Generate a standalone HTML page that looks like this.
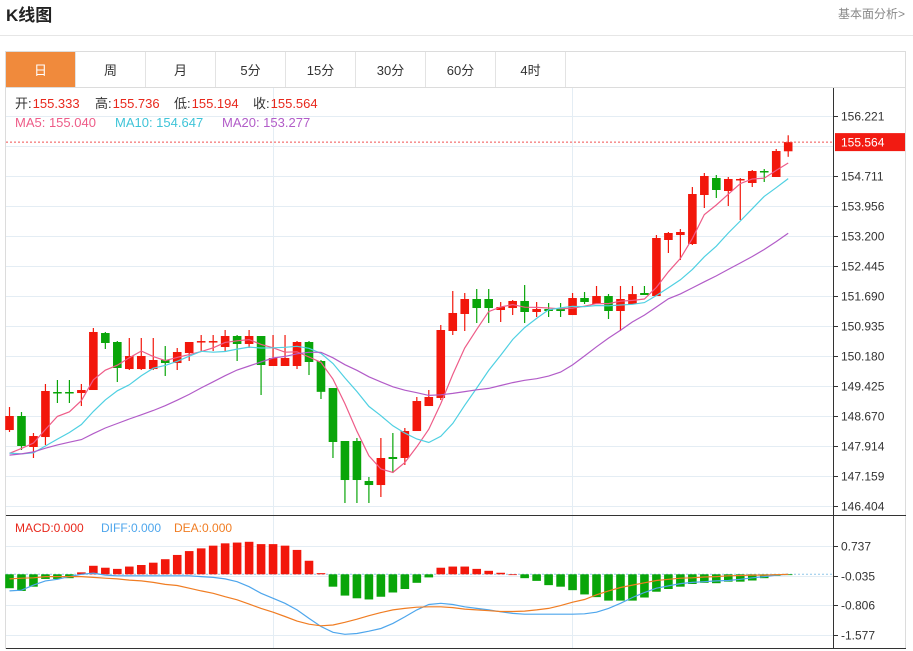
<!DOCTYPE html>
<html><head><meta charset="utf-8"><style>
body{margin:0;background:#fff;font-family:"Liberation Sans","Noto Sans CJK SC",sans-serif;}
#wrap{position:relative;width:913px;height:651px;overflow:hidden;}
svg text{font-family:"Liberation Sans","Noto Sans CJK SC",sans-serif;}
</style></head><body>
<div id="wrap">
<svg id="svg" width="913" height="651" xmlns="http://www.w3.org/2000/svg">
<text x="6" y="21" font-size="17" font-weight="bold" fill="#222">K线图</text>
<text x="905" y="18" font-size="12" fill="#888" text-anchor="end">基本面分析&gt;</text>
<line x1="0" y1="35.5" x2="913" y2="35.5" stroke="#e6e6e6"/>
<rect x="5.5" y="51.5" width="900" height="597" fill="none" stroke="#dcdcdc"/>
<g id="tabs"></g>
<g id="grid"></g>
<g id="main"></g>
<g id="macd"></g>
<g id="axes"></g>
</svg>
</div>
<script>
const opens=[148.319,148.672,147.892,148.143,149.276,149.276,149.250,149.326,150.760,150.534,149.854,149.854,149.854,150.081,150.005,150.257,150.534,150.534,150.408,150.685,150.484,150.685,149.930,149.930,149.930,150.534,150.056,149.376,148.043,148.043,147.036,146.935,147.640,147.615,148.294,148.923,149.125,150.811,151.239,151.616,151.616,151.339,151.389,151.566,151.289,151.364,151.364,151.213,151.641,151.490,151.691,151.314,151.490,151.767,151.691,153.101,153.226,153.000,154.233,154.661,154.334,154.610,154.535,154.837,154.686,155.333];
const closes=[148.672,147.917,148.168,149.301,149.250,149.250,149.326,150.786,150.509,149.880,150.182,150.182,150.081,150.005,150.282,150.534,150.558,150.558,150.685,150.484,150.685,149.955,150.131,150.131,150.534,150.031,149.280,148.018,147.061,147.061,146.935,147.615,147.590,148.294,149.049,149.150,150.836,151.264,151.616,151.389,151.389,151.415,151.566,151.289,151.364,151.314,151.314,151.641,151.541,151.691,151.314,151.616,151.740,151.717,153.151,153.277,153.302,154.258,154.711,154.359,154.636,154.636,154.837,154.812,155.340,155.564];
const highs=[148.898,148.772,148.244,149.477,149.578,149.578,149.477,150.886,150.786,150.559,150.635,150.635,150.635,150.433,150.383,150.534,150.710,150.710,150.836,150.710,150.836,150.685,150.710,150.710,150.559,150.559,150.081,149.376,148.043,148.118,147.137,148.118,148.244,148.370,149.150,149.326,150.962,151.817,151.767,151.868,151.868,151.540,151.591,151.968,151.540,151.515,151.515,151.767,151.792,151.943,151.742,151.943,151.943,151.943,153.226,153.302,153.377,154.434,154.787,154.736,154.686,154.661,154.862,154.887,155.391,155.736];
const lows=[148.269,147.816,147.615,147.942,148.999,148.999,148.923,150.786,150.358,149.527,149.829,149.829,149.829,149.678,149.829,150.056,150.307,150.307,150.307,150.056,150.383,149.200,149.930,149.930,149.854,149.703,149.100,147.615,146.483,146.483,146.483,146.634,147.237,147.439,148.923,148.923,149.074,150.710,150.811,151.012,151.012,151.037,151.213,151.012,151.163,151.163,151.163,151.213,151.490,151.490,151.113,150.811,151.490,151.717,151.717,152.774,152.597,152.975,153.906,154.158,153.956,153.604,154.434,154.560,154.686,155.194];
const historyCloses=[147.3,147.2,147.4,147.6,147.9,148.0,147.8,147.7,147.6,147.9,148.1,147.9,147.6,147.5,147.6,147.3,147.5,147.6,147.6];
const priceTicks=[156.221,154.711,153.956,153.200,152.445,151.690,150.935,150.180,149.425,148.670,147.914,147.159,146.404];
const macdHist=[-0.36,-0.43,-0.32,-0.12,-0.12,-0.10,0.05,0.22,0.17,0.14,0.20,0.24,0.30,0.39,0.50,0.60,0.67,0.74,0.80,0.82,0.84,0.78,0.78,0.74,0.63,0.35,0.03,-0.32,-0.55,-0.62,-0.65,-0.58,-0.47,-0.38,-0.22,-0.08,0.17,0.20,0.20,0.14,0.09,0.04,0.00,-0.10,-0.17,-0.28,-0.32,-0.41,-0.52,-0.59,-0.68,-0.68,-0.68,-0.60,-0.45,-0.38,-0.32,-0.25,-0.22,-0.23,-0.19,-0.19,-0.16,-0.10,-0.04,-0.02];
const diffVals=[-0.43,-0.41,-0.28,-0.17,-0.13,-0.06,0.00,0.03,-0.02,-0.04,-0.04,-0.04,-0.04,-0.04,-0.04,-0.04,-0.06,-0.08,-0.12,-0.19,-0.32,-0.49,-0.62,-0.75,-0.92,-1.14,-1.35,-1.50,-1.55,-1.53,-1.47,-1.40,-1.27,-1.10,-0.92,-0.78,-0.75,-0.78,-0.84,-0.88,-0.92,-0.97,-1.01,-1.03,-1.03,-1.03,-1.03,-1.03,-1.02,-0.98,-0.88,-0.75,-0.60,-0.47,-0.36,-0.30,-0.24,-0.21,-0.19,-0.17,-0.16,-0.13,-0.09,-0.06,-0.02,0.00];
const deaVals=[-0.12,-0.10,-0.09,-0.06,-0.06,-0.06,-0.06,-0.08,-0.10,-0.12,-0.15,-0.17,-0.21,-0.26,-0.29,-0.36,-0.43,-0.49,-0.58,-0.66,-0.77,-0.88,-0.98,-1.09,-1.21,-1.29,-1.33,-1.31,-1.24,-1.16,-1.07,-0.99,-0.92,-0.88,-0.85,-0.84,-0.84,-0.86,-0.90,-0.92,-0.94,-0.96,-0.96,-0.95,-0.92,-0.88,-0.81,-0.72,-0.65,-0.53,-0.43,-0.34,-0.28,-0.22,-0.16,-0.13,-0.10,-0.09,-0.07,-0.06,-0.04,-0.03,-0.02,-0.02,-0.01,0.00];
const macdTicks=[0.737,-0.035,-0.806,-1.577];
const tabLabels=["日","周","月","5分","15分","30分","60分","4时"];

const NS="http://www.w3.org/2000/svg";
function mk(parent,tag,attrs,text){const e=document.createElementNS(NS,tag);for(const k in attrs)e.setAttribute(k,attrs[k]);if(text!==undefined)e.textContent=text;parent.appendChild(e);return e;}
const yP=p=>116+(156.221-p)*39.74;
const yM=v=>574.3-v*38.7;
const xI=i=>9.5+i*11.98;
const G=id=>document.getElementById(id);

// tabs
const tabs=G('tabs');
mk(tabs,'line',{x1:5,y1:87.5,x2:906,y2:87.5,stroke:'#dcdcdc'});
tabLabels.forEach((t,i)=>{
  const x=6+i*70;
  const r=mk(tabs,'rect',{x:x,y:52,width:69,height:35,fill:i===0?'#f08a3c':'#fff'});
  
  
  mk(tabs,'line',{x1:x+69.5,y1:52,x2:x+69.5,y2:87,stroke:'#e3e3e3'});
  const tx=mk(tabs,'text',{x:x+34.5,y:75,'font-size':13,'text-anchor':'middle',fill:i===0?'#fff':'#333'},t);
  
  
});

// grid
const grid=G('grid');
priceTicks.forEach(p=>mk(grid,'line',{x1:6,y1:Math.round(yP(p))+0.5,x2:833,y2:Math.round(yP(p))+0.5,stroke:'#e4edf4'}));
mk(grid,'line',{x1:6,y1:146.5,x2:833,y2:146.5,stroke:'#e4edf4'});
macdTicks.forEach(v=>mk(grid,'line',{x1:6,y1:Math.round(yM(v))+0.5,x2:833,y2:Math.round(yM(v))+0.5,stroke:'#e4edf4'}));
[273.5,572.5].forEach(x=>{mk(grid,'line',{x1:x,y1:88,x2:x,y2:515,stroke:'#e4edf4'});mk(grid,'line',{x1:x,y1:516,x2:x,y2:648,stroke:'#e4edf4'});});

// candles
const main=G('main');
const RED='#f2170b',GRN='#09a509';
opens.forEach((o,i)=>{
  const c=closes[i],x=xI(i),col=c>=o?RED:GRN;
  const w=mk(main,'line',{x1:x,y1:yP(highs[i]),x2:x,y2:yP(lows[i]),stroke:col,'stroke-width':1.2});
  
  
  const top=yP(Math.max(o,c)),h=Math.max(1.5,Math.abs(yP(o)-yP(c)));
  const b=mk(main,'rect',{x:x-4.3,y:top,width:8.6,height:h,fill:col});
  
  
});
// moving averages
const all=historyCloses.concat(closes);
function ma(n){return closes.map((_,i)=>{const j=i+historyCloses.length;let s=0;for(let k=j-n+1;k<=j;k++)s+=all[k];return s/n;});}
[[5,'#ee5c88','ma5-line'],[10,'#4fd0e2','ma10-line'],[20,'#b25cc8','ma20-line']].forEach(([n,col,name])=>{
  const pts=ma(n).map((v,i)=>xI(i).toFixed(1)+','+yP(v).toFixed(1)).join(' ');
  const l=mk(main,'polyline',{points:pts,fill:'none',stroke:col,'stroke-width':1.2});
  
  
});
const lastC=closes[closes.length-1];
const pl=mk(main,'line',{x1:6,y1:yP(lastC),x2:833,y2:yP(lastC),stroke:'#f05050','stroke-dasharray':'2,2'});



// info text
const info=[['开:','155.333',15],['高:','155.736',95],['低:','155.194',174],['收:','155.564',253]];
info.forEach(([k,v,x])=>{
  const t=mk(main,'text',{x:x,y:108,'font-size':13,fill:'#333'});
  
  
  mk(t,'tspan',{},k);mk(t,'tspan',{fill:'#e8281c',dx:1},v);
});
[['MA5: 155.040','#ee5c88',15],['MA10: 154.647','#3fc4d8',115],['MA20: 153.277','#b25cc8',222]].forEach(([s,c,x])=>{
  const t=mk(main,'text',{x:x,y:127,'font-size':13,fill:c},s);
  
  
});

// macd
const mg=G('macd');
mk(mg,'line',{x1:6,y1:yM(0),x2:833,y2:yM(0),stroke:'#8fc7ea','stroke-dasharray':'2,2'});
macdHist.forEach((v,i)=>{
  const y0=yM(0),y1=yM(v);
  const r=mk(mg,'rect',{x:xI(i)-4.3,y:Math.min(y0,y1),width:8.6,height:Math.max(0.8,Math.abs(y1-y0)),fill:v>=0?RED:GRN});
  
  
});
[[diffVals,'#4ea6ec','diff-line'],[deaVals,'#f07d23','dea-line']].forEach(([arr,col,name])=>{
  const l=mk(mg,'polyline',{points:arr.map((v,i)=>xI(i).toFixed(1)+','+yM(v).toFixed(1)).join(' '),fill:'none',stroke:col,'stroke-width':1.2});
  
  
});
[['MACD:0.000','#e8281c',15],['DIFF:0.000','#4ea6ec',101],['DEA:0.000','#f07d23',174]].forEach(([s,c,x])=>{
  const t=mk(mg,'text',{x:x,y:532,'font-size':12,fill:c},s);
  
  
});

// axes
const ax=G('axes');
mk(ax,'line',{x1:833.5,y1:88,x2:833.5,y2:648,stroke:'#333'});
mk(ax,'line',{x1:6,y1:515.5,x2:906,y2:515.5,stroke:'#333'});
mk(ax,'line',{x1:6,y1:648.5,x2:906,y2:648.5,stroke:'#333'});
priceTicks.forEach(p=>{
  const y=Math.round(yP(p))+0.5;
  mk(ax,'line',{x1:833,y1:y,x2:838,y2:y,stroke:'#333'});
  const t=mk(ax,'text',{x:841,y:y+4,'font-size':12,fill:'#333'},p.toFixed(3));
  
  
});
macdTicks.forEach(v=>{
  const y=Math.round(yM(v))+0.5;
  mk(ax,'line',{x1:833,y1:y,x2:838,y2:y,stroke:'#333'});
  const t=mk(ax,'text',{x:841,y:y+4,'font-size':12,fill:'#333'},v.toFixed(3));
  
  
});
const ly=yP(lastC);
const lb=mk(ax,'rect',{x:835,y:ly-9,width:70,height:18,fill:'#f21b12'});


const lt=mk(ax,'text',{x:841,y:ly+4.5,'font-size':12,fill:'#fff'},lastC.toFixed(3));


</script>
</body></html>
